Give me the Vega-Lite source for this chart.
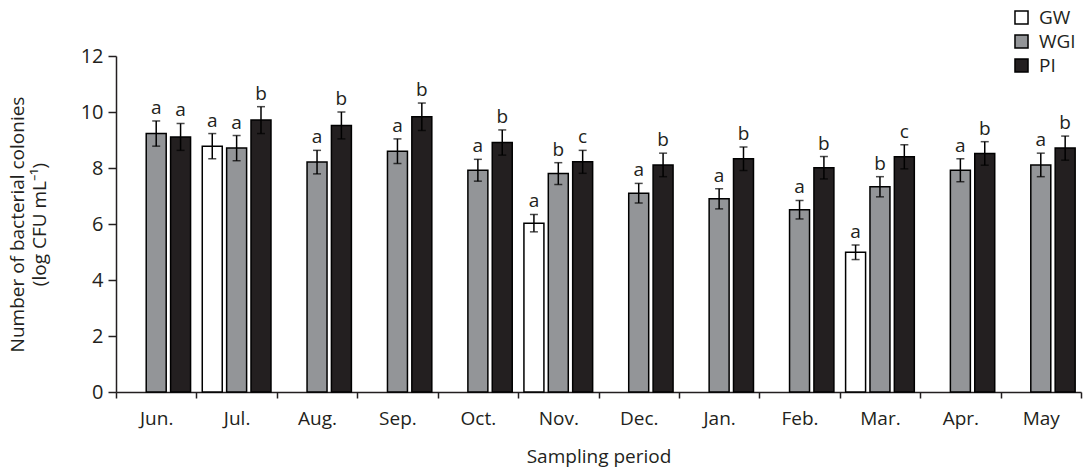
{
  "$schema": "https://vega.github.io/schema/vega-lite/v6.json",
  "autosize": "none",
  "width": 965,
  "height": 336,
  "padding": {"left": 116, "top": 56, "right": 4, "bottom": 76},
  "background": "white",
  "config": {
    "view": {"stroke": null},
    "font": "Open Sans",
    "axis": {"labelFont": "Open Sans", "titleFont": "Open Sans", "labelColor": "#231f20", "titleColor": "#231f20", "titleFontWeight": "normal", "domainColor": "#231f20", "tickColor": "#231f20", "grid": false}
  },
  "data": {
    "values": [
      {"month": "Jun.", "group": "WGI", "value": 9.23, "lo": 8.78, "hi": 9.68, "letter": "a"},
      {"month": "Jun.", "group": "PI", "value": 9.11, "lo": 8.63, "hi": 9.59, "letter": "a"},
      {"month": "Jul.", "group": "GW", "value": 8.78, "lo": 8.33, "hi": 9.23, "letter": "a"},
      {"month": "Jul.", "group": "WGI", "value": 8.71, "lo": 8.26, "hi": 9.16, "letter": "a"},
      {"month": "Jul.", "group": "PI", "value": 9.71, "lo": 9.23, "hi": 10.19, "letter": "b"},
      {"month": "Aug.", "group": "WGI", "value": 8.21, "lo": 7.79, "hi": 8.63, "letter": "a"},
      {"month": "Aug.", "group": "PI", "value": 9.52, "lo": 9.04, "hi": 10.0, "letter": "b"},
      {"month": "Sep.", "group": "WGI", "value": 8.6, "lo": 8.16, "hi": 9.04, "letter": "a"},
      {"month": "Sep.", "group": "PI", "value": 9.83, "lo": 9.34, "hi": 10.32, "letter": "b"},
      {"month": "Oct.", "group": "WGI", "value": 7.92, "lo": 7.53, "hi": 8.31, "letter": "a"},
      {"month": "Oct.", "group": "PI", "value": 8.91, "lo": 8.46, "hi": 9.36, "letter": "b"},
      {"month": "Nov.", "group": "GW", "value": 6.03, "lo": 5.72, "hi": 6.34, "letter": "a"},
      {"month": "Nov.", "group": "WGI", "value": 7.8, "lo": 7.41, "hi": 8.19, "letter": "b"},
      {"month": "Nov.", "group": "PI", "value": 8.22, "lo": 7.81, "hi": 8.63, "letter": "c"},
      {"month": "Dec.", "group": "WGI", "value": 7.1, "lo": 6.75, "hi": 7.45, "letter": "a"},
      {"month": "Dec.", "group": "PI", "value": 8.11, "lo": 7.69, "hi": 8.53, "letter": "b"},
      {"month": "Jan.", "group": "WGI", "value": 6.9, "lo": 6.54, "hi": 7.26, "letter": "a"},
      {"month": "Jan.", "group": "PI", "value": 8.33, "lo": 7.91, "hi": 8.75, "letter": "b"},
      {"month": "Feb.", "group": "WGI", "value": 6.51, "lo": 6.18, "hi": 6.84, "letter": "a"},
      {"month": "Feb.", "group": "PI", "value": 8.01, "lo": 7.61, "hi": 8.41, "letter": "b"},
      {"month": "Mar.", "group": "GW", "value": 4.99, "lo": 4.73, "hi": 5.25, "letter": "a"},
      {"month": "Mar.", "group": "WGI", "value": 7.33, "lo": 6.97, "hi": 7.69, "letter": "b"},
      {"month": "Mar.", "group": "PI", "value": 8.4, "lo": 7.97, "hi": 8.83, "letter": "c"},
      {"month": "Apr.", "group": "WGI", "value": 7.92, "lo": 7.51, "hi": 8.33, "letter": "a"},
      {"month": "Apr.", "group": "PI", "value": 8.52, "lo": 8.1, "hi": 8.94, "letter": "b"},
      {"month": "May", "group": "WGI", "value": 8.11, "lo": 7.69, "hi": 8.53, "letter": "a"},
      {"month": "May", "group": "PI", "value": 8.71, "lo": 8.28, "hi": 9.14, "letter": "b"}
    ]
  },
  "encoding": {
    "x": {
      "field": "month",
      "type": "nominal",
      "sort": ["Jun.", "Jul.", "Aug.", "Sep.", "Oct.", "Nov.", "Dec.", "Jan.", "Feb.", "Mar.", "Apr.", "May"],
      "scale": {"paddingInner": 0, "paddingOuter": 0},
      "axis": {
        "title": "Sampling period",
        "titleFontSize": 19,
        "titlePadding": 19,
        "labelFontSize": 19,
        "labelAngle": 0,
        "labelPadding": 11,
        "tickBand": "extent",
        "tickSize": 6,
        "tickWidth": 1.5,
        "domainWidth": 1.5
      }
    },
    "xOffset": {
      "field": "group",
      "type": "nominal",
      "sort": ["GW", "WGI", "PI"],
      "scale": {"domain": ["GW", "WGI", "PI"], "paddingInner": 0.18, "paddingOuter": 0.24}
    }
  },
  "layer": [
    {
      "mark": {"type": "bar", "stroke": "#000000", "strokeWidth": 1.5},
      "encoding": {
        "y": {
          "field": "value",
          "type": "quantitative",
          "scale": {"domain": [0, 12], "nice": false},
          "axis": {
            "title": ["Number of bacterial colonies", "(log CFU mL⁻¹)"],
            "titleFontSize": 19,
            "titleLineHeight": 22,
            "titlePadding": 31,
            "labelFontSize": 20,
            "labelPadding": 5,
            "values": [0, 2, 4, 6, 8, 10, 12],
            "tickSize": 8,
            "tickWidth": 1.5,
            "domainWidth": 1.5
          }
        },
        "fill": {
          "field": "group",
          "type": "nominal",
          "scale": {"domain": ["GW", "WGI", "PI"], "range": ["#ffffff", "#939598", "#231f20"]},
          "legend": {
            "title": null,
            "orient": "none",
            "legendX": 896,
            "legendY": -48,
            "symbolType": "square",
            "symbolSize": 170,
            "symbolStrokeColor": "#000000",
            "symbolStrokeWidth": 1.5,
            "labelFontSize": 19,
            "labelFont": "Open Sans",
            "labelColor": "#231f20",
            "rowPadding": 3,
            "labelOffset": 8
          }
        }
      }
    },
    {
      "mark": {"type": "rule", "stroke": "#000000", "strokeWidth": 1.5},
      "encoding": {
        "y": {"field": "lo", "type": "quantitative"},
        "y2": {"field": "hi"}
      }
    },
    {
      "mark": {"type": "tick", "color": "#000000", "thickness": 1.5, "size": 8},
      "encoding": {"y": {"field": "lo", "type": "quantitative"}}
    },
    {
      "mark": {"type": "tick", "color": "#000000", "thickness": 1.5, "size": 8},
      "encoding": {"y": {"field": "hi", "type": "quantitative"}}
    },
    {
      "mark": {"type": "text", "baseline": "bottom", "dy": -3, "fontSize": 19, "font": "Open Sans", "color": "#231f20"},
      "encoding": {
        "y": {"field": "hi", "type": "quantitative"},
        "text": {"field": "letter"}
      }
    }
  ]
}
